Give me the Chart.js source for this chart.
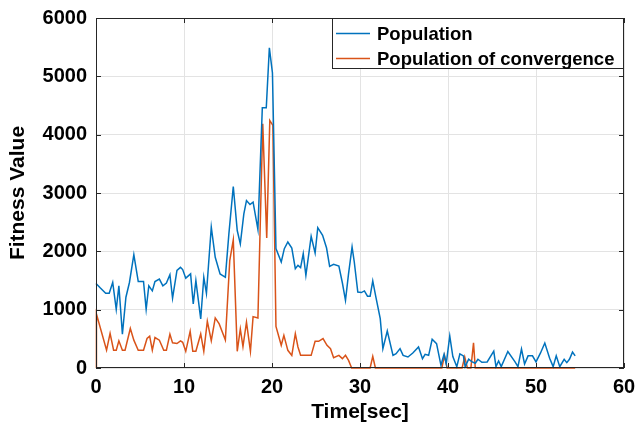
<!DOCTYPE html>
<html>
<head>
<meta charset="utf-8">
<script src="https://cdn.jsdelivr.net/npm/chart.js@4"></script>
<style>
  body { margin: 0; background: #fff; }
  #wrap { width: 636px; height: 435px; }
</style>
</head>
<body>
<div id="wrap"><canvas id="fitChart" width="636" height="435"></canvas></div>
<script>
// time (sec) / value for the two series
const timeBlue = [0, 0.5, 1.1, 1.5, 1.9, 2.3, 2.6, 3.0, 3.4, 3.8, 4.3, 4.8, 5.4, 5.7, 6.0, 6.4, 6.7, 7.2, 7.6, 8.0,
  8.4, 8.7, 9.2, 9.6, 9.85, 10.2, 10.75, 11.05, 11.35, 11.9, 12.25, 12.55, 13.1, 13.55, 14.1, 14.4, 14.7, 15.1, 15.6, 16.05,
  16.4, 16.8, 17.1, 17.5, 17.85, 18.4, 18.9, 19.35, 19.7, 20.05, 20.45, 21.05, 21.4, 21.8, 22.25, 22.65, 22.95, 23.25, 23.55, 23.85,
  24.45, 24.9, 25.2, 25.75, 26.2, 26.55, 27.0, 27.6, 28.0, 28.35, 28.7, 29.1, 29.35, 29.75, 30.15, 30.5, 30.85, 31.15, 31.45, 31.8,
  32.3, 32.6, 33.1, 33.75, 34.1, 34.55, 34.9, 35.45, 36.0, 36.65, 37.1, 37.4, 37.8, 38.2, 38.7, 39.2, 39.55, 39.8, 40.2, 40.55,
  41.0, 41.35, 41.75, 41.95, 42.35, 42.7, 43.1, 43.4, 43.85, 44.45, 45.2, 45.45, 45.75, 46.05, 46.8, 47.6, 47.95, 48.35, 48.7, 49.1,
  49.6, 50.0, 50.5, 51.0, 51.55, 51.95, 52.3, 52.7, 53.2, 53.5, 53.8, 54.15, 54.45];
const popBlue = [1450, 1370, 1280, 1280, 1466, 1006, 1409, 580, 1213, 1466, 1943, 1483, 1483, 1006, 1409, 1322, 1483, 1524, 1409, 1455,
  1598, 1196, 1673, 1725, 1687, 1540, 1613, 1098, 1499, 841, 1556, 1281, 2414, 1899, 1613, 1584, 1556, 2299, 3112, 2357,
  2128, 2643, 2871, 2803, 2843, 2374, 4462, 4462, 5490, 5060, 2046, 1817, 2046, 2160, 2057, 1703, 1760, 1720, 1960, 1589,
  2257, 1971, 2406, 2274, 2057, 1743, 1777, 1749, 1457, 1160, 1617, 2074, 1817, 1303, 1293, 1321, 1230, 1230, 1493, 1218,
  847, 332, 635, 217, 246, 332, 217, 189, 257, 360, 160, 235, 217, 492, 418, 46, 235, 74, 550, 197,
  23, 243, 208, 23, 150, 110, 81, 150, 98, 104, 289, 23, 121, 23, 283, 110, 23, 324, 69, 208,
  208, 104, 254, 428, 168, 23, 208, 23, 150, 92, 150, 272, 208];

const timeOrange = [0, 0.05, 1.2, 1.6, 2.0, 2.3, 2.6, 3.0, 3.3, 3.9, 4.3, 4.8, 5.4, 5.8, 6.1, 6.4, 6.7, 7.2, 7.7, 8.0,
  8.4, 8.7, 9.2, 9.6, 9.85, 10.2, 10.7, 11.0, 11.35, 11.9, 12.25, 12.65, 13.1, 13.55, 14.0, 14.7, 15.2, 15.6, 16.05, 16.4,
  16.7, 17.1, 17.55, 17.85, 18.4, 18.95, 19.4, 19.75, 20.1, 20.45, 21.05, 21.35, 21.8, 22.25, 22.65, 22.95, 23.25, 24.45, 24.9, 25.3,
  25.8, 26.25, 26.65, 27.0, 27.6, 28.0, 28.35, 28.7, 29.05, 31.15, 31.45, 31.75, 39.3, 39.6, 39.9, 41.6, 41.9, 42.2, 42.6, 42.9,
  43.1, 54.45];
const popOrange = [0, 925, 305, 592, 305, 305, 466, 305, 305, 678, 477, 305, 305, 506, 546, 305, 523, 477, 305, 305,
  580, 431, 420, 466, 440, 286, 629, 286, 286, 583, 286, 801, 469, 858, 755, 480, 1842, 2196, 286, 669,
  366, 784, 286, 881, 858, 4187, 2231, 4244, 4158, 714, 389, 560, 303, 217, 589, 360, 217, 217, 457, 457,
  503, 389, 331, 177, 217, 160, 217, 131, 0, 0, 200, 0, 0, 217, 0, 0, 190, 0, 0, 430,
  0, 0];

const xTicks = [0, 10, 20, 30, 40, 50, 60];
const yTicks = [0, 1000, 2000, 3000, 4000, 5000, 6000];
const seriesNames = ['Population', 'Population of convergence'];
const seriesColors = ['#0072BD', '#D95319'];

const toPoints = (xs, ys) => xs.map((x, i) => ({ x: x, y: ys[i] }));
const fontFamily = '"Liberation Sans", Arial, sans-serif';

// matlab style box with inward ticks + legend inside the axes
const matlabBox = {
  id: 'matlabBox',
  afterDatasetsDraw(chart) {
    const { ctx, chartArea: a, scales } = chart;
    ctx.save();
    ctx.strokeStyle = '#262626';
    ctx.lineWidth = 1;
    ctx.strokeRect(a.left + 0.5, a.top + 0.5, a.right - a.left - 1, a.bottom - a.top - 1);
    const tl = 5;
    ctx.beginPath();
    xTicks.forEach(v => {
      const px = Math.round(scales.x.getPixelForValue(v)) + 0.5;
      ctx.moveTo(px, a.bottom); ctx.lineTo(px, a.bottom - tl);
      ctx.moveTo(px, a.top); ctx.lineTo(px, a.top + tl);
    });
    yTicks.forEach(v => {
      const py = Math.round(scales.y.getPixelForValue(v)) + 0.5;
      ctx.moveTo(a.left, py); ctx.lineTo(a.left + tl, py);
      ctx.moveTo(a.right, py); ctx.lineTo(a.right - tl, py);
    });
    ctx.stroke();

    // legend
    const lx = 332, ly = 18, lw = a.right - lx, lh = 51;
    ctx.fillStyle = '#fff';
    ctx.fillRect(lx, ly, lw, lh);
    ctx.strokeStyle = '#262626';
    ctx.strokeRect(lx + 0.5, ly + 0.5, lw - 1, lh - 1);
    ctx.font = 'bold 18.5px ' + fontFamily;
    ctx.textBaseline = 'middle';
    seriesNames.forEach((name, i) => {
      const yy = ly + 15.5 + i * 25;
      ctx.strokeStyle = seriesColors[i];
      ctx.lineWidth = 1.5;
      ctx.beginPath();
      ctx.moveTo(lx + 4, yy); ctx.lineTo(lx + 38, yy);
      ctx.stroke();
      ctx.fillStyle = '#000';
      ctx.fillText(name, lx + 45, yy + 1);
    });
    ctx.restore();
  }
};

new Chart(document.getElementById('fitChart'), {
  type: 'line',
  data: {
    datasets: [
      {
        label: seriesNames[0],
        data: toPoints(timeBlue, popBlue),
        borderColor: seriesColors[0],
        borderWidth: 1.5,
        pointRadius: 0,
        tension: 0,
        clip: 3,
      },
      {
        label: seriesNames[1],
        data: toPoints(timeOrange, popOrange),
        borderColor: seriesColors[1],
        borderWidth: 1.5,
        pointRadius: 0,
        tension: 0,
        clip: 3,
      },
    ],
  },
  options: {
    responsive: false,
    animation: false,
    layout: { padding: { top: 18, right: 12, left: 0, bottom: 0 } },
    plugins: { legend: { display: false }, tooltip: { enabled: false } },
    scales: {
      x: {
        type: 'linear',
        min: 0,
        max: 60,
        afterBuildTicks: s => { s.ticks = xTicks.map(v => ({ value: v })); },
        afterFit: s => { s.height = 67; s.paddingLeft = 0; s.paddingRight = 0; },
        border: { display: false },
        grid: { color: '#e3e3e3', lineWidth: 1, drawTicks: false },
        ticks: { color: '#000', padding: 7, maxRotation: 0, callback: v => String(v), font: { family: fontFamily, size: 20, weight: 'bold' } },
        title: {
          display: true,
          text: 'Time[sec]',
          color: '#000',
          padding: { top: 0, bottom: 10 },
          font: { family: fontFamily, size: 21, weight: 'bold' },
        },
      },
      y: {
        min: 0,
        max: 6000,
        afterBuildTicks: s => { s.ticks = yTicks.map(v => ({ value: v })); },
        afterFit: s => { s.width = 96; s.paddingTop = 0; s.paddingBottom = 0; },
        border: { display: false },
        grid: { color: '#e3e3e3', lineWidth: 1, drawTicks: false },
        ticks: { color: '#000', padding: 9, callback: v => String(v), font: { family: fontFamily, size: 20, weight: 'bold' } },
        title: {
          display: true,
          text: 'Fitness Value',
          color: '#000',
          padding: { top: 6, bottom: 0 },
          font: { family: fontFamily, size: 21, weight: 'bold' },
        },
      },
    },
  },
  plugins: [matlabBox],
});
</script>
</body>
</html>
